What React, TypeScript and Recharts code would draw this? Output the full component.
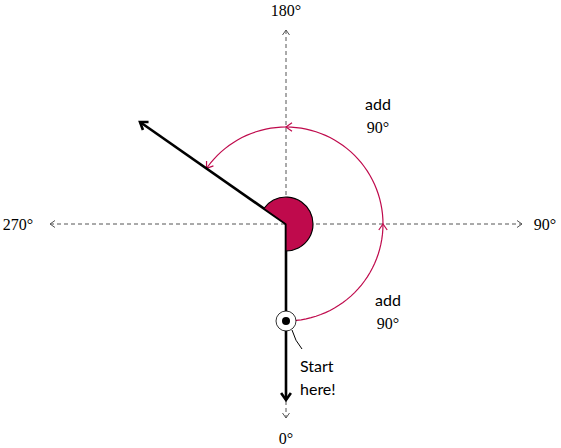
import { ComposedChart, Scatter, XAxis, YAxis } from 'recharts'

// one data unit = one pixel, origin at the centre of the compass
const axisH = [{ x: -236, y: 0 }, { x: 236, y: 0 }]
const axisV = [{ x: 0, y: 194 }, { x: 0, y: -194 }]
const startVec = [{ x: 0, y: 0 }, { x: 0, y: -176 }]
const turnedVec = [{ x: 0, y: 0 }, { x: -146, y: 102 }]

const arcRadius = 97
const arcSpans = [[-90, 0], [0, 90], [90, 145]]
const wedge = [{ x: 0, y: 0, r: 27, from: -90, to: 145 }]
const startMark = [{ x: 0, y: -97 }]

const axisTips = [
  { x: -236, y: 0, rot: 180 },
  { x: 236, y: 0, rot: 0 },
  { x: 0, y: 194, rot: -90 },
  { x: 0, y: -194, rot: 90 },
]
const vecTips = [
  { x: 0, y: -176, rot: 90 },
  { x: -146, y: 102, rot: 214.9 },
]

const degLabels = [
  { x: 0, y: 214, text: '180°' },
  { x: 0, y: -214, text: '0°' },
  { x: -268, y: 0, text: '270°' },
  { x: 259, y: 0, text: '90°' },
]
const addLabels = [
  { x: 92, y: 114, lines: ['add', '90°'] },
  { x: 102, y: -82, lines: ['add', '90°'] },
]

const CRIMSON = '#BF0A4C'
const rad = (a: number) => (a * Math.PI) / 180

const arcs = arcSpans.map(([a, b]) => {
  const pts = []
  for (let a2 = a; a2 <= b; a2 += 3) pts.push({ x: arcRadius * Math.cos(rad(a2)), y: arcRadius * Math.sin(rad(a2)) })
  pts.push({ x: arcRadius * Math.cos(rad(b)), y: arcRadius * Math.sin(rad(b)) })
  return pts
})
const arcTips = arcSpans.map(([, b]) => ({
  x: arcRadius * Math.cos(rad(b)),
  y: arcRadius * Math.sin(rad(b)),
  rot: -(b + 90),
}))

const none = () => null

const chevron = (size: number, color: string, width: number) => (p: any) => (
  <g transform={`translate(${p.cx},${p.cy}) rotate(${p.payload.rot})`}>
    <path d={`M${-size},${-size * 0.7} L0,0 L${-size},${size * 0.7}`} fill="none" stroke={color} strokeWidth={width} strokeLinejoin="miter" />
  </g>
)

const wedgeShape = (p: any) => {
  const { r, from, to } = p.payload
  const pt = (a: number) => `${p.cx + r * Math.cos(rad(a))},${p.cy - r * Math.sin(rad(a))}`
  return (
    <path d={`M${p.cx},${p.cy} L${pt(from)} A${r},${r} 0 1 0 ${pt(to)} Z`} fill={CRIMSON} stroke="#000" strokeWidth={1.2} />
  )
}

const startShape = (p: any) => (
  <g>
    <circle cx={p.cx} cy={p.cy} r={10} fill="#fff" stroke="#000" strokeWidth={0.8} />
    <circle cx={p.cx} cy={p.cy} r={4} fill="#000" />
    <path d={`M${p.cx + 6},${p.cy + 9} Q${p.cx + 9},${p.cy + 20} ${p.cx + 16},${p.cy + 28}`} fill="none" stroke="#000" strokeWidth={1} />
    <text x={p.cx + 14} y={p.cy + 51} fontFamily="Lato, DejaVu Sans, sans-serif" fontSize={16}>Start</text>
    <text x={p.cx + 14} y={p.cy + 74} fontFamily="Lato, DejaVu Sans, sans-serif" fontSize={16}>here!</text>
  </g>
)

const degShape = (p: any) => (
  <text x={p.cx} y={p.cy} textAnchor="middle" dominantBaseline="central" fontFamily="Liberation Serif, serif" fontSize={16}>
    {p.payload.text}
  </text>
)

const addShape = (p: any) => (
  <g fontSize={16}>
    <text x={p.cx} y={p.cy} textAnchor="middle" fontFamily="Lato, DejaVu Sans, sans-serif">{p.payload.lines[0]}</text>
    <text x={p.cx} y={p.cy + 23} textAnchor="middle" fontFamily="Liberation Serif, serif">{p.payload.lines[1]}</text>
  </g>
)

export default function App() {
  return (
    <div style={{ position: 'fixed', left: 0, top: 0, background: '#fff' }}>
      <ComposedChart width={561} height={448} margin={{ top: 0, right: 0, bottom: 0, left: 0 }}>
        <XAxis type="number" dataKey="x" domain={[-286, 275]} hide allowDataOverflow />
        <YAxis type="number" dataKey="y" domain={[-224, 224]} hide allowDataOverflow />
        <Scatter data={axisH} line={{ stroke: '#555', strokeWidth: 1, strokeDasharray: '4 3' }} shape={none} isAnimationActive={false} />
        <Scatter data={axisV} line={{ stroke: '#555', strokeWidth: 1, strokeDasharray: '4 3' }} shape={none} isAnimationActive={false} />
        <Scatter data={axisTips} shape={chevron(5, '#555', 1)} isAnimationActive={false} />
        {arcs.map((a, i) => (
          <Scatter key={i} data={a} line={{ stroke: CRIMSON, strokeWidth: 1.2 }} shape={none} isAnimationActive={false} />
        ))}
        <Scatter data={arcTips} shape={chevron(6, CRIMSON, 1.2)} isAnimationActive={false} />
        <Scatter data={startVec} line={{ stroke: '#000', strokeWidth: 2.6 }} shape={none} isAnimationActive={false} />
        <Scatter data={turnedVec} line={{ stroke: '#000', strokeWidth: 2.6 }} shape={none} isAnimationActive={false} />
        <Scatter data={vecTips} shape={chevron(7, '#000', 2.6)} isAnimationActive={false} />
        <Scatter data={wedge} shape={wedgeShape} isAnimationActive={false} />
        <Scatter data={startMark} shape={startShape} isAnimationActive={false} />
        <Scatter data={degLabels} shape={degShape} isAnimationActive={false} />
        <Scatter data={addLabels} shape={addShape} isAnimationActive={false} />
      </ComposedChart>
    </div>
  )
}
